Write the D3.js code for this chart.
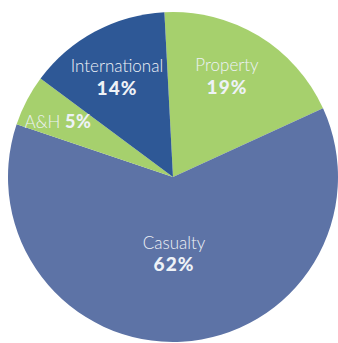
<!DOCTYPE html>
<html>
<head>
<meta charset="utf-8">
<script src="https://cdn.jsdelivr.net/npm/d3@7"></script>
<style>
  html, body { margin: 0; padding: 0; background: #ffffff; }
  svg { display: block; }
</style>
</head>
<body>
<svg id="chart" width="338" height="343"></svg>
<script>
// Segment shares, in clockwise order from 12 o'clock
const categories = ["Property", "Casualty", "A&H", "International"];
const shares = [19, 62, 5, 14];
const colors = ["#a6d06d", "#5d73a6", "#a6d06d", "#2e5896"];

// Label placement per segment: [x, nameBaseline, pctBaseline], inline = name and value on one line
const labelLayout = [
  { x: 227, y1: 71, y2: 94, inline: false },
  { x: 174, y1: 249, y2: 271, inline: false },
  { x: 58, y1: 128, y2: 128, inline: true },
  { x: 117, y1: 72, y2: 95, inline: false }
];

const svg = d3.select("#chart");
const cx = 173, cy = 177, radius = 165;

const pie = d3.pie()
  .sort(null)
  .value(d => d.value)
  .startAngle(-3 * Math.PI / 180)
  .endAngle(2 * Math.PI - 3 * Math.PI / 180);

const data = categories.map((c, i) => ({ name: c, value: shares[i], color: colors[i], layout: labelLayout[i] }));
const arcs = pie(data);

const arc = d3.arc().innerRadius(0).outerRadius(radius);

const g = svg.append("g").attr("transform", `translate(${cx},${cy})`);

g.selectAll("path")
  .data(arcs)
  .join("path")
  .attr("d", arc)
  .attr("fill", d => d.data.color);

const labels = svg.append("g")
  .attr("fill", "#eef2f7")
  .style("font-family", "Lato, 'Open Sans', sans-serif");

arcs.forEach(a => {
  const L = a.data.layout;
  if (L.inline) {
    const t = labels.append("text")
      .attr("x", L.x)
      .attr("y", L.y1)
      .attr("text-anchor", "middle");
    t.append("tspan").attr("font-weight", 300).attr("font-size", 17).text(a.data.name + " ");
    t.append("tspan").attr("font-weight", 900).attr("font-size", 18).attr("letter-spacing", 0.5).text(a.data.value + "%");
  } else {
    labels.append("text")
      .attr("x", L.x)
      .attr("y", L.y1)
      .attr("text-anchor", "middle")
      .attr("font-weight", 300)
      .attr("font-size", 17)
      .text(a.data.name);
    labels.append("text")
      .attr("x", L.x)
      .attr("y", L.y2)
      .attr("text-anchor", "middle")
      .attr("font-weight", 900)
      .attr("font-size", 19)
      .attr("letter-spacing", 1)
      .text(a.data.value + "%");
  }
});
</script>
</body>
</html>
